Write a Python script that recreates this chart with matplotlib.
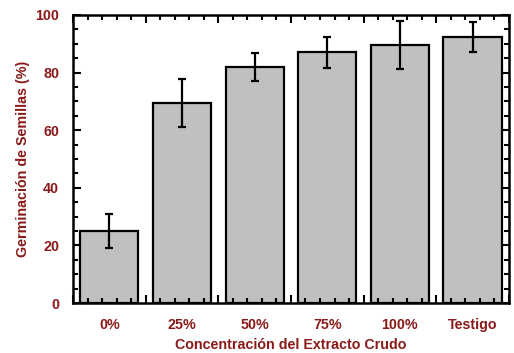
import matplotlib
matplotlib.use("Agg")
import matplotlib.pyplot as plt
from matplotlib.ticker import MultipleLocator, FixedLocator

categorias = ["0%", "25%", "50%", "75%", "100%", "Testigo"]
germinacion = [25, 69.5, 82, 87, 89.7, 92.3]
error = [6, 8.3, 4.9, 5.3, 8.3, 5.2]

rojo = "#8b1a1a"
plt.rcParams["font.family"] = ["Liberation Sans", "DejaVu Sans"]
plt.rcParams["font.weight"] = "bold"

fig = plt.figure(figsize=(5.14, 3.53), dpi=100)
ax = fig.add_axes([0.142, 0.1416, 0.848, 0.816])

x = list(range(len(categorias)))
ax.bar(x, germinacion, width=0.8, color="#c0c0c0", edgecolor="black", linewidth=1.6,
       yerr=error, error_kw=dict(ecolor="black", elinewidth=1.6, capsize=3, capthick=1.6))

ax.set_xlim(-0.5, len(categorias) - 0.5)
ax.set_ylim(0, 100)

# y: mayores cada 20, menores cada 5
ax.yaxis.set_major_locator(MultipleLocator(20))
ax.yaxis.set_minor_locator(MultipleLocator(5))
# x: mayores entre barras (sin etiqueta), menores dentro
ax.xaxis.set_major_locator(FixedLocator([i - 0.5 for i in range(len(categorias) + 1)]))
ax.xaxis.set_minor_locator(FixedLocator([i - 0.5 + k * 0.2 for i in range(len(categorias)) for k in range(1, 5)]))
ax.set_xticklabels([])
for i, c in enumerate(categorias):
    ax.text(i, -7.5, c, ha="center", va="center", color=rojo, fontsize=10.3, fontweight="bold")

ax.tick_params(which="both", direction="in", top=True, right=True, width=1.5, colors="black")
ax.tick_params(which="major", length=6)
ax.tick_params(which="minor", length=3.5)
ax.tick_params(axis="y", which="both", labelcolor=rojo, labelsize=10.3, pad=10)
for lbl in ax.get_yticklabels():
    lbl.set_fontweight("bold")
for s in ax.spines.values():
    s.set_linewidth(1.8)

ax.set_ylabel("Germinación de Semillas (%)", color=rojo, fontsize=10.3, fontweight="bold", labelpad=4)
ax.set_xlabel("Concentración del Extracto Crudo", color=rojo, fontsize=10.3, fontweight="bold", labelpad=22)

fig.savefig("out.png", dpi=100)
